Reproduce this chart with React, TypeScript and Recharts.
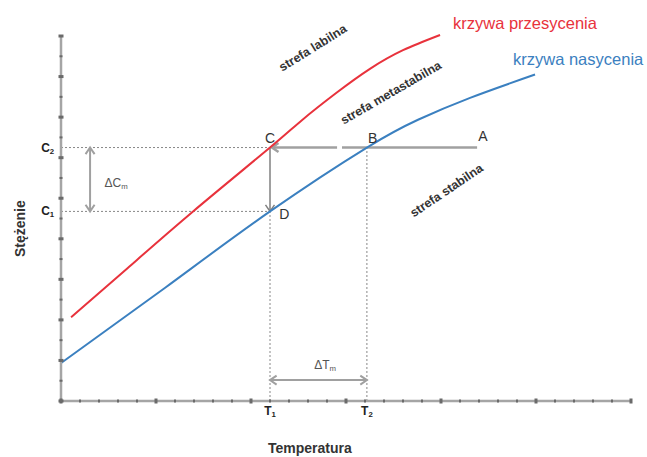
import React from 'react';
import { ComposedChart, Line, XAxis, YAxis, ReferenceLine, ReferenceDot } from 'recharts';

// Krzywa przesycenia (supersaturation curve)
const supersatT = [0.53, 3.5, 6.95, 11, 12.68, 14.5, 16.26, 18.0, 19.95];
const supersatC = [4.13, 6.55, 9.35, 12.5, 13.85, 15.2, 16.38, 17.3, 18.05];
// Krzywa nasycenia (saturation curve)
const satT = [0, 5.5, 11, 16.1, 18.79, 21.53, 24.95];
const satC = [1.87, 5.6, 9.35, 12.5, 13.87, 14.95, 16.1];

const T1 = 11;
const T2 = 16.1;
const C1 = 9.35;
const C2 = 12.5;
const A_T = 21.9;

const xTicks = Array.from({ length: 31 }, (_, i) => i);
const yTicks = Array.from({ length: 19 }, (_, i) => i);

const supersatData = supersatT.map((t, i) => ({ t, c: supersatC[i] }));
const satData = satT.map((t, i) => ({ t, c: satC[i] }));

const FONT = "'Liberation Sans', Arial, sans-serif";
const RED = '#e8323c';
const BLUE = '#3b80c0';
const GRAY = '#a0a0a0';

const XTick = (props: any) => {
  const { x, y, payload } = props;
  const major = payload.value % 5 === 0;
  return (
    <rect x={x - (major ? 1.5 : 1)} y={y - (major ? 2.5 : 1.5)} width={major ? 3 : 2} height={major ? 5 : 3} fill="#6a6a6a" />
  );
};
const YTick = (props: any) => {
  const { x, y, payload } = props;
  const major = payload.value % 2 === 0;
  return (
    <rect x={x - (major ? 2.5 : 1.5)} y={y - (major ? 1.5 : 1)} width={major ? 5 : 3} height={major ? 3 : 2} fill="#6a6a6a" />
  );
};

const arrowShape = (start: boolean, end: boolean, color: string, width: number) => (p: any) => {
  const x1 = Number(p.x1), y1 = Number(p.y1), x2 = Number(p.x2), y2 = Number(p.y2);
  const ang = Math.atan2(y2 - y1, x2 - x1);
  const L = 8;
  const W = 0.6;
  const head = (x: number, y: number, a: number) =>
    `M${x + L * Math.cos(a + W)},${y + L * Math.sin(a + W)} L${x},${y} L${x + L * Math.cos(a - W)},${y + L * Math.sin(a - W)}`;
  return (
    <g>
      <line x1={x1} y1={y1} x2={x2} y2={y2} stroke={color} strokeWidth={width} />
      {start && <path d={head(x1, y1, ang)} fill="none" stroke={color} strokeWidth={width} />}
      {end && <path d={head(x2, y2, ang + Math.PI)} fill="none" stroke={color} strokeWidth={width} />}
    </g>
  );
};

const textShape = (content: React.ReactNode, opts: any = {}) => (p: any) => {
  const { rotate = 0, anchor = 'middle', size = 13, color = '#333', weight = 'normal' } = opts;
  return (
    <text
      x={p.cx}
      y={p.cy}
      textAnchor={anchor}
      dominantBaseline="central"
      fontFamily={FONT}
      fontSize={size}
      fontWeight={weight}
      fill={color}
      transform={rotate ? `rotate(${rotate} ${p.cx} ${p.cy})` : undefined}
    >
      {content}
    </text>
  );
};

const sub = (main: string, s: string, size: number) => (
  <>
    <tspan>{main}</tspan>
    <tspan fontSize={size * 0.65} dy={size * 0.25}>{s}</tspan>
  </>
);

export default function App() {
  return (
    <div style={{ position: 'absolute', left: 0, top: 0 }}>
      <ComposedChart width={647} height={457} margin={{ top: 35, right: 16, bottom: 55, left: 60 }}>
        <XAxis
          type="number"
          dataKey="t"
          domain={[0, 30]}
          ticks={xTicks}
          height={1}
          tickSize={0}
          tickMargin={0}
          tickLine={false}
          axisLine={{ stroke: '#a5a5a5', strokeWidth: 2.5 }}
          tick={(p: any) => <XTick {...p} />}
          interval={0}
        />
        <YAxis
          type="number"
          dataKey="c"
          domain={[0, 18]}
          ticks={yTicks}
          width={1}
          tickSize={0}
          tickMargin={0}
          tickLine={false}
          axisLine={{ stroke: '#a5a5a5', strokeWidth: 2.5 }}
          tick={(p: any) => <YTick {...p} />}
          interval={0}
        />

        {/* dotted guides */}
        <ReferenceLine segment={[{ x: 0, y: C2 }, { x: T1, y: C2 }]} stroke="#888" strokeWidth={1} strokeDasharray="2 2" ifOverflow="visible" />
        <ReferenceLine segment={[{ x: 0, y: C1 }, { x: T1, y: C1 }]} stroke="#888" strokeWidth={1} strokeDasharray="2 2" ifOverflow="visible" />
        <ReferenceLine segment={[{ x: T1, y: 0 }, { x: T1, y: C1 }]} stroke="#888" strokeWidth={1} strokeDasharray="2 2" ifOverflow="visible" />
        <ReferenceLine segment={[{ x: T2, y: 0 }, { x: T2, y: C2 }]} stroke="#888" strokeWidth={1} strokeDasharray="2 2" ifOverflow="visible" />

        {/* A -> B -> C line */}
        <ReferenceLine segment={[{ x: T1 + 0.1, y: C2 }, { x: 14.53, y: C2 }]} ifOverflow="visible" shape={arrowShape(true, false, GRAY, 2.5)} />
        <ReferenceLine segment={[{ x: 14.79, y: C2 }, { x: A_T, y: C2 }]} ifOverflow="visible" shape={arrowShape(false, false, GRAY, 2.5)} />
        {/* C -> D */}
        <ReferenceLine segment={[{ x: T1, y: C2 }, { x: T1, y: C1 }]} ifOverflow="visible" shape={arrowShape(false, true, '#808080', 1.5)} />
        {/* delta C */}
        <ReferenceLine segment={[{ x: 1.53, y: C2 }, { x: 1.53, y: C1 }]} ifOverflow="visible" shape={arrowShape(true, true, GRAY, 2)} />
        {/* delta T */}
        <ReferenceLine segment={[{ x: T1, y: 1.03 }, { x: T2, y: 1.03 }]} ifOverflow="visible" shape={arrowShape(true, true, GRAY, 2)} />

        <Line data={supersatData} dataKey="c" type="natural" stroke={RED} strokeWidth={2} dot={false} isAnimationActive={false} />
        <Line data={satData} dataKey="c" type="natural" stroke={BLUE} strokeWidth={2} dot={false} isAnimationActive={false} />

        {/* point letters */}
        <ReferenceDot x={T1} y={C2 + 0.45} r={0} ifOverflow="visible" shape={textShape('C', { size: 14 })} />
        <ReferenceDot x={T2 + 0.3} y={C2 + 0.45} r={0} ifOverflow="visible" shape={textShape('B', { size: 14 })} />
        <ReferenceDot x={A_T + 0.3} y={C2 + 0.55} r={0} ifOverflow="visible" shape={textShape('A', { size: 14 })} />
        <ReferenceDot x={T1 + 0.75} y={C1 - 0.15} r={0} ifOverflow="visible" shape={textShape('D', { size: 14 })} />

        {/* delta labels */}
        <ReferenceDot x={2.9} y={10.77} r={0} ifOverflow="visible" shape={textShape(sub('ΔC', 'm', 12), { size: 12, color: '#555' })} />
        <ReferenceDot x={13.9} y={1.8} r={0} ifOverflow="visible" shape={textShape(sub('ΔT', 'm', 12), { size: 12, color: '#555' })} />

        {/* axis value labels */}
        <ReferenceDot x={-0.7} y={C2} r={0} ifOverflow="visible" shape={textShape(sub('C', '2', 12), { size: 12, weight: 'bold', color: '#222' })} />
        <ReferenceDot x={-0.7} y={C1} r={0} ifOverflow="visible" shape={textShape(sub('C', '1', 12), { size: 12, weight: 'bold', color: '#222' })} />
        <ReferenceDot x={T1} y={-0.5} r={0} ifOverflow="visible" shape={textShape(sub('T', '1', 12), { size: 12, weight: 'bold', color: '#222' })} />
        <ReferenceDot x={T2} y={-0.5} r={0} ifOverflow="visible" shape={textShape(sub('T', '2', 12), { size: 12, weight: 'bold', color: '#222' })} />

        {/* axis titles */}
        <ReferenceDot x={13.1} y={-2.31} r={0} ifOverflow="visible" shape={textShape('Temperatura', { size: 14, weight: 'bold', color: '#333' })} />
        <ReferenceDot x={-2.16} y={8.5} r={0} ifOverflow="visible" shape={textShape('Stężenie', { size: 14, weight: 'bold', color: '#333', rotate: -90 })} />

        {/* zone labels */}
        <ReferenceDot x={13.26} y={17.41} r={0} ifOverflow="visible" shape={textShape('strefa labilna', { size: 12.5, weight: 'bold', color: '#333', rotate: -32 })} />
        <ReferenceDot x={17.37} y={15.2} r={0} ifOverflow="visible" shape={textShape('strefa metastabilna', { size: 12.5, weight: 'bold', color: '#333', rotate: -30 })} />
        <ReferenceDot x={20.3} y={10.38} r={0} ifOverflow="visible" shape={textShape('strefa stabilna', { size: 12.5, weight: 'bold', color: '#333', rotate: -34 })} />

        {/* curve names */}
        <ReferenceDot x={20.63} y={18.64} r={0} ifOverflow="visible" shape={textShape('krzywa przesycenia', { size: 16.5, color: RED, anchor: 'start' })} />
        <ReferenceDot x={23.79} y={16.87} r={0} ifOverflow="visible" shape={textShape('krzywa nasycenia', { size: 16.5, color: BLUE, anchor: 'start' })} />
      </ComposedChart>
    </div>
  );
}
